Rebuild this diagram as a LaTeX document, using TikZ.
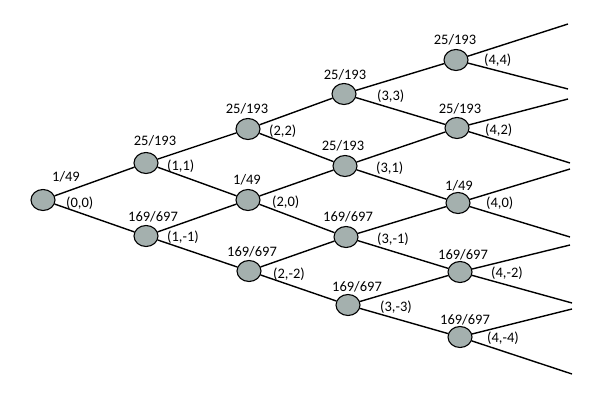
\documentclass[tikz,border=0pt]{standalone}
\usepackage{fontspec}
\setmainfont{Carlito}
\usepackage{xcolor}
\usepackage{tikz}
\usetikzlibrary{calc, shapes.geometric}

\definecolor{nodegray}{RGB}{164,176,174}

\begin{document}
\begin{tikzpicture}[x=1pt, y=-1pt,
		vertex/.style={ellipse, draw, fill=nodegray, line width=1.1pt, minimum width=24pt, minimum height=21pt, inner sep=0pt},
		problabel/.style={font=\fontsize{14.5}{16}\selectfont, inner sep=0pt},
		coordlabel/.style={font=\fontsize{14.5}{16}\selectfont, inner sep=0pt, anchor=west},
		branch/.style={line width=1.4pt}]
		
		%size of the picture
		\useasboundingbox (0,0) rectangle (609,411);
		
		%lattice nodes
		\node [vertex] (n00) at (43,200) {};
		\node [vertex] (n11) at (146,163) {};
		\node [vertex] (n1m1) at (146,236) {};
		\node [vertex] (n22) at (248,129) {};
		\node [vertex] (n20) at (248,200) {};
		\node [vertex] (n2m2) at (249,271) {};
		\node [vertex] (n33) at (344,94) {};
		\node [vertex] (n31) at (345,166) {};
		\node [vertex] (n3m1) at (346,237) {};
		\node [vertex] (n3m3) at (348,305) {};
		\node [vertex] (n44) at (456,60) {};
		\node [vertex] (n42) at (457,128) {};
		\node [vertex] (n40) at (458,203) {};
		\node [vertex] (n4m2) at (460,272) {};
		\node [vertex] (n4m4) at (460,337) {};
		
		%free ends on the right
		\coordinate (l1) at (568,24);
		\coordinate (l2) at (568,89);
		\coordinate (l3) at (568,99);
		\coordinate (l4) at (570,163);
		\coordinate (l5) at (570,169);
		\coordinate (l6) at (570,237);
		\coordinate (l7) at (570,245);
		\coordinate (l8) at (572,303);
		\coordinate (l9) at (572,309);
		\coordinate (l10) at (572,374);
		
		%branches
		\draw [branch] (n00) -- (n11);
		\draw [branch] (n00) -- (n1m1);
		
		\draw [branch] (n11) -- (n22);
		\draw [branch] (n11) -- (n20);
		\draw [branch] (n1m1) -- (n20);
		\draw [branch] (n1m1) -- (n2m2);
		
		\draw [branch] (n22) -- (n33);
		\draw [branch] (n22) -- (n31);
		\draw [branch] (n20) -- (n31);
		\draw [branch] (n20) -- (n3m1);
		\draw [branch] (n2m2) -- (n3m1);
		\draw [branch] (n2m2) -- (n3m3);
		
		\draw [branch] (n33) -- (n44);
		\draw [branch] (n33) -- (n42);
		\draw [branch] (n31) -- (n42);
		\draw [branch] (n31) -- (n40);
		\draw [branch] (n3m1) -- (n40);
		\draw [branch] (n3m1) -- (n4m2);
		\draw [branch] (n3m3) -- (n4m2);
		\draw [branch] (n3m3) -- (n4m4);
		
		\draw [branch] (n44) -- (l1);
		\draw [branch] (n44) -- (l2);
		\draw [branch] (n42) -- (l3);
		\draw [branch] (n42) -- (l4);
		\draw [branch] (n40) -- (l5);
		\draw [branch] (n40) -- (l6);
		\draw [branch] (n4m2) -- (l7);
		\draw [branch] (n4m2) -- (l8);
		\draw [branch] (n4m4) -- (l9);
		\draw [branch] (n4m4) -- (l10);
		
		%probabilities
		\node [problabel] (p00) at ($(n00)+(23,-23)$) {1/49};
		\node [problabel] (p11) at ($(n11)+(9,-22)$) {25/193};
		\node [problabel] (p1m1) at ($(n1m1)+(7,-19)$) {169/697};
		\node [problabel] (p22) at ($(n22)+(-1,-20)$) {25/193};
		\node [problabel] (p20) at ($(n20)+(-1,-20)$) {1/49};
		\node [problabel] (p2m2) at ($(n2m2)+(3,-19)$) {169/697};
		\node [problabel] (p33) at ($(n33)+(1,-19)$) {25/193};
		\node [problabel] (p31) at ($(n31)+(-2,-20)$) {25/193};
		\node [problabel] (p3m1) at ($(n3m1)+(2,-20)$) {169/697};
		\node [problabel] (p3m3) at ($(n3m3)+(9,-18)$) {169/697};
		\node [problabel] (p44) at ($(n44)+(-1,-20)$) {25/193};
		\node [problabel] (p42) at ($(n42)+(3,-19)$) {25/193};
		\node [problabel] (p40) at ($(n40)+(1,-17)$) {1/49};
		\node [problabel] (p4m2) at ($(n4m2)+(3,-17)$) {169/697};
		\node [problabel] (p4m4) at ($(n4m4)+(5,-17)$) {169/697};
		
		%states
		\node [coordlabel] (c00) at ($(n00)+(23,3)$) {(0,0)};
		\node [coordlabel] (c11) at ($(n11)+(21,3)$) {(1,1)};
		\node [coordlabel] (c1m1) at ($(n1m1)+(21,1)$) {(1,-1)};
		\node [coordlabel] (c22) at ($(n22)+(21,2)$) {(2,2)};
		\node [coordlabel] (c20) at ($(n20)+(24,2)$) {(2,0)};
		\node [coordlabel] (c2m2) at ($(n2m2)+(24,3)$) {(2,-2)};
		\node [coordlabel] (c33) at ($(n33)+(33,2)$) {(3,3)};
		\node [coordlabel] (c31) at ($(n31)+(31,2)$) {(3,1)};
		\node [coordlabel] (c3m1) at ($(n3m1)+(31,2)$) {(3,-1)};
		\node [coordlabel] (c3m3) at ($(n3m3)+(32,2)$) {(3,-3)};
		\node [coordlabel] (c44) at ($(n44)+(28,0)$) {(4,4)};
		\node [coordlabel] (c42) at ($(n42)+(28,2)$) {(4,2)};
		\node [coordlabel] (c40) at ($(n40)+(28,0)$) {(4,0)};
		\node [coordlabel] (c4m2) at ($(n4m2)+(31,1)$) {(4,-2)};
		\node [coordlabel] (c4m4) at ($(n4m4)+(27,1)$) {(4,-4)};
	\end{tikzpicture}
\end{document}
